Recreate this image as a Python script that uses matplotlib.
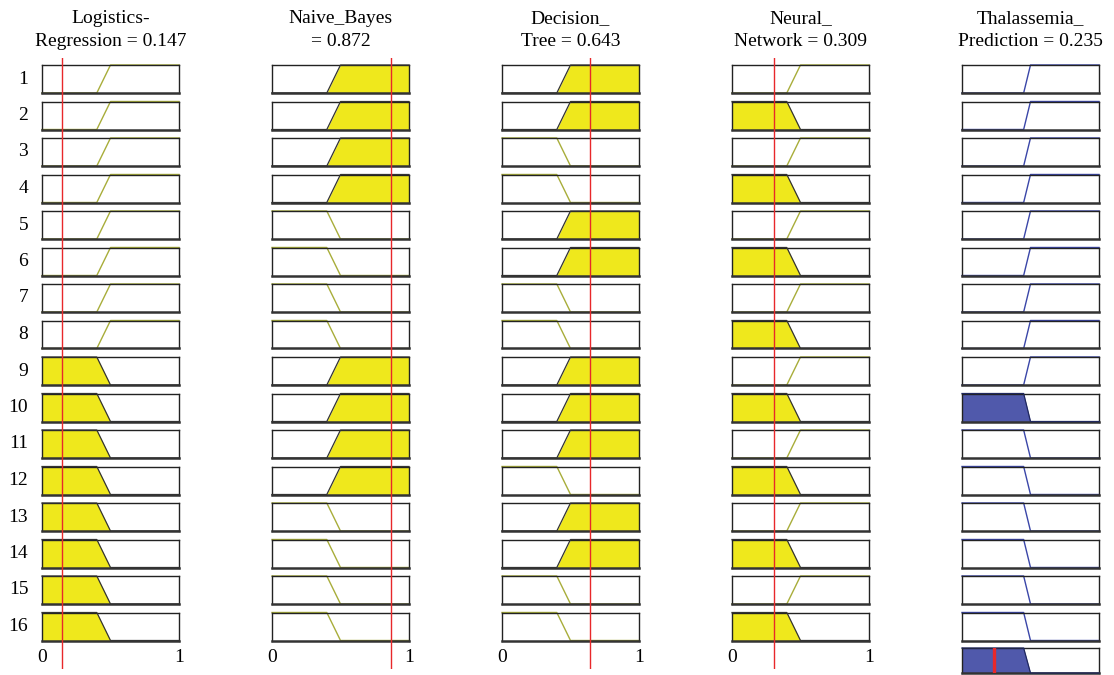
import numpy as np
import matplotlib
matplotlib.use("Agg")
import matplotlib.pyplot as plt

plt.rcParams['font.family'] = ['Liberation Serif', 'DejaVu Serif']

# Input variables and their crisp values
input_titles = ["Logistics-\nRegression = 0.147", "Naive_Bayes\n= 0.872",
                "Decision_\nTree = 0.643", "Neural_\nNetwork = 0.309"]
input_values = [0.147, 0.872, 0.643, 0.309]

output_title = "Thalassemia_\nPrediction = 0.235"
output_value = 0.235

# Membership functions (trapezoids)
in_mfs = {"L": [0, 0, 0.4, 0.5], "H": [0.4, 0.5, 1, 1]}
out_mfs = {"L": [0, 0, 0.45, 0.5], "H": [0.45, 0.5, 1, 1]}

# Rule base: antecedent MF per input, consequent MF per rule
rules_lr = ["H"] * 8 + ["L"] * 8
rules_nb = ["H"] * 4 + ["L"] * 4 + ["H"] * 4 + ["L"] * 4
rules_dt = ["H", "H", "L", "L", "H", "H", "L", "L",
            "H", "H", "H", "L", "H", "H", "L", "L"]
rules_nn = ["H", "L"] * 8
rules_out = ["H"] * 9 + ["L"] * 7
rule_inputs = [rules_lr, rules_nb, rules_dt, rules_nn]
n_rules = len(rules_out)

YELLOW = "#efe81c"
OLIVE = "#a8ad3a"
BLUE_FILL = "#5059ab"
BLUE_LINE = "#3a46a8"
RED = "#e8282a"

W, H = 1114, 675
fig = plt.figure(figsize=(11.14, 6.75), dpi=100)
xgrid = np.linspace(0, 1, 401)


def px_axes(x0, y0, w, h):
    # rectangle given in pixels from top-left
    return fig.add_axes([x0 / W, 1 - (y0 + h) / H, w / W, h / H])


def trap(params, x):
    a, b, c, d = params
    return np.interp(x, [a, b, c, d], [0 if a < b else 1, 1, 1, 0 if c < d else 1])


def mf_line(params):
    a, b, c, d = params
    xs = [0, a, b, c, d, 1]
    return xs, trap(params, np.array(xs))


def style_box(ax):
    ax.set_xlim(0, 1)
    ax.set_ylim(0, 1)
    ax.set_xticks([])
    ax.set_yticks([])
    for s in ax.spines.values():
        s.set_color("#222222")
        s.set_linewidth(1.0)
    ax.spines["bottom"].set_linewidth(1.8)
    ax.spines["bottom"].set_color("#333333")


def draw_mf(ax, mf, level, fill_c, edge_c, line_c):
    if level > 0:
        y = np.minimum(trap(mf, xgrid), level)
        ax.fill_between(xgrid, 0, y, color=fill_c, lw=0, zorder=2)
        ax.plot(xgrid, y, color=edge_c, lw=0.9, clip_on=False, zorder=3)
    else:
        xs, ys = mf_line(mf)
        ax.plot(xs, ys, color=line_c, lw=1.0, clip_on=False, zorder=2)


col_left = [42, 272, 502, 732, 962]
col_w = 137
row_top0, row_pitch, row_h = 65, 36.5, 28

# firing strength of each rule (min of memberships)
firing = []
for r in range(n_rules):
    degs = [trap(in_mfs[rule_inputs[j][r]], input_values[j]) for j in range(4)]
    firing.append(min(degs))

for j in range(4):
    for r in range(n_rules):
        ax = px_axes(col_left[j], row_top0 + r * row_pitch, col_w, row_h)
        style_box(ax)
        mf = in_mfs[rule_inputs[j][r]]
        draw_mf(ax, mf, trap(mf, input_values[j]), YELLOW, "#333333", OLIVE)
        if j == 0:
            ax.text(-0.1, 0.5, str(r + 1), transform=ax.transAxes, ha="right",
                    va="center", fontsize=14)
        if r == n_rules - 1:
            ax.set_xticks([0, 1])
            ax.set_xticklabels(["0", "1"], fontsize=14)
            ax.tick_params(axis="x", length=0, pad=6)
        if r == 0:
            ax.set_title(input_titles[j], fontsize=14, pad=14, linespacing=1.45)
    # red input line across all rows
    ov = px_axes(col_left[j], 58, col_w, 611)
    ov.set_xlim(0, 1)
    ov.axis("off")
    ov.axvline(input_values[j], color=RED, lw=1.0)

# output column
agg = np.zeros_like(xgrid)
for r in range(n_rules):
    ax = px_axes(col_left[4], row_top0 + r * row_pitch, col_w, row_h)
    style_box(ax)
    mf = out_mfs[rules_out[r]]
    draw_mf(ax, mf, firing[r], BLUE_FILL, "#20285e", BLUE_LINE)
    agg = np.maximum(agg, np.minimum(trap(mf, xgrid), firing[r]))
    if r == 0:
        ax.set_title(output_title, fontsize=14, pad=14, linespacing=1.45)

ax = px_axes(col_left[4], 648, col_w, 25)
style_box(ax)
ax.fill_between(xgrid, 0, agg, color=BLUE_FILL, lw=0, zorder=2)
ax.plot(xgrid, agg, color="#20285e", lw=0.9, clip_on=False, zorder=3)
ax.axvline(output_value, color=RED, lw=2.4, zorder=4)

fig.savefig("out.png", dpi=100)
